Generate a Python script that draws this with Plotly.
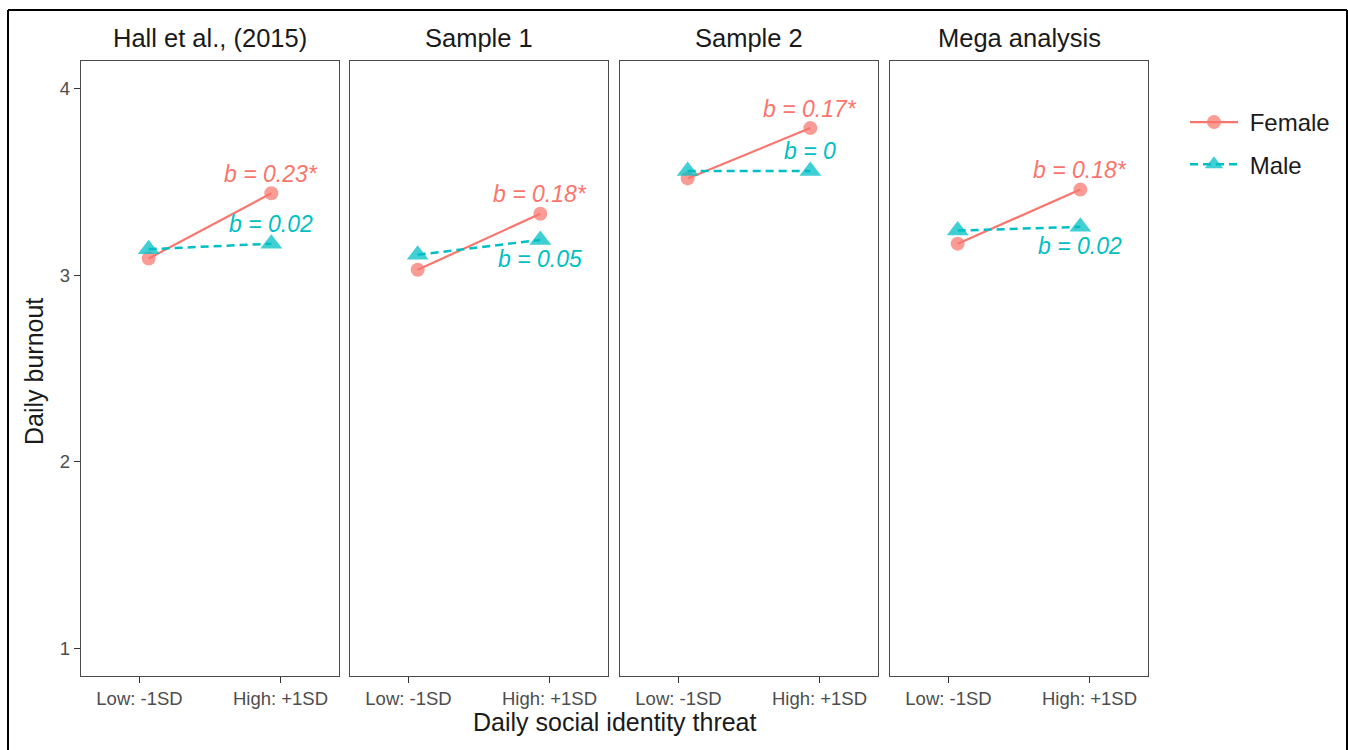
import plotly.graph_objects as go

# ---------------- data ----------------
panels = ["Hall et al., (2015)", "Sample 1", "Sample 2", "Mega analysis"]
x_levels = [-0.87, 0.87]                     # Low / High threat (plotted positions)
tick_vals = [-1, 1]
tick_text = ["Low: -1SD", "High: +1SD"]
female_low = [3.09, 3.03, 3.52, 3.17]
female_high = [3.44, 3.33, 3.79, 3.46]
male_low = [3.14, 3.11, 3.56, 3.24]
male_high = [3.17, 3.19, 3.56, 3.26]
female_b = ["b = 0.23*", "b = 0.18*", "b = 0.17*", "b = 0.18*"]
male_b = ["b = 0.02", "b = 0.05", "b = 0", "b = 0.02"]
male_label_side = ["above", "below", "above", "below"]
y_ticks = [1, 2, 3, 4]
groups = ["Female", "Male"]

# ---------------- style ----------------
W, H = 1348, 750
FEM = "#F8766D"
MAL = "#00BFC4"
FONT = "Liberation Sans, Arial, sans-serif"
panel_px = [(81, 339), (350, 608), (620, 878), (890, 1148)]
top_px, bot_px = 61, 676
label_off = 0.105
NBSP = "\u00a0"

fig = go.Figure()
for i, name in enumerate(panels):
    ax = "" if i == 0 else str(i + 1)
    xr, yr = "x" + ax, "y" + ax
    fig.add_trace(go.Scatter(
        x=x_levels, y=[female_low[i], female_high[i]], xaxis=xr, yaxis=yr,
        mode="lines+markers", name=NBSP + groups[0], legendgroup=groups[0],
        showlegend=(i == 0),
        line=dict(color=FEM, width=2.2),
        marker=dict(symbol="circle", size=14, color=FEM, opacity=0.72),
    ))
    fig.add_trace(go.Scatter(
        x=x_levels, y=[male_low[i], male_high[i]], xaxis=xr, yaxis=yr,
        mode="lines+markers", name=NBSP + groups[1], legendgroup=groups[1],
        showlegend=(i == 0),
        line=dict(color=MAL, width=2.5, dash="8px,5px"),
        marker=dict(symbol="triangle-up", size=19, color=MAL, opacity=0.75),
    ))
    # slope labels
    fig.add_annotation(x=x_levels[1], y=female_high[i] + label_off, xref=xr, yref=yr,
                       text="<i>" + female_b[i] + "</i>", showarrow=False,
                       font=dict(family=FONT, size=23, color=FEM),
                       xanchor="center", yanchor="middle")
    sgn = 1 if male_label_side[i] == "above" else -1
    fig.add_annotation(x=x_levels[1], y=male_high[i] + sgn * label_off, xref=xr, yref=yr,
                       text="<i>" + male_b[i] + "</i>", showarrow=False,
                       font=dict(family=FONT, size=23, color=MAL),
                       xanchor="center", yanchor="middle")
    # strip title
    l, r = panel_px[i]
    fig.add_annotation(x=(l + r) / 2 / W, y=1 - 38 / H, xref="paper", yref="paper",
                       text=name, showarrow=False,
                       font=dict(family=FONT, size=25.5, color="#1a1a1a"),
                       xanchor="center", yanchor="middle")

    fig.layout["xaxis" + ax] = dict(
        domain=[l / W, r / W], range=[-1.83, 1.83], anchor=yr,
        tickvals=tick_vals, ticktext=tick_text, ticks="outside", ticklen=6,
        tickwidth=1.3, tickcolor="#333333",
        tickfont=dict(family=FONT, size=18.5, color="#4D4D4D"),
        showline=True, mirror=True, linecolor="#4a4a4a", linewidth=1.3,
        showgrid=False, zeroline=False, fixedrange=True,
    )
    ydict = dict(
        domain=[1 - bot_px / H, 1 - top_px / H], range=[0.85, 4.15], anchor=xr,
        showline=True, mirror=True, linecolor="#4a4a4a", linewidth=1.3,
        showgrid=False, zeroline=False, fixedrange=True,
    )
    if i == 0:
        ydict.update(tickvals=y_ticks, ticks="outside", ticklen=6, tickwidth=1.3,
                     tickcolor="#333333",
                     tickfont=dict(family=FONT, size=18.5, color="#4D4D4D"))
    else:
        ydict.update(showticklabels=False, ticks="")
    fig.layout["yaxis" + ax] = ydict

# axis titles
fig.add_annotation(x=614.5 / W, y=1 - 722 / H, xref="paper", yref="paper",
                   text="Daily social identity threat", showarrow=False,
                   font=dict(family=FONT, size=25, color="#1a1a1a"),
                   xanchor="center", yanchor="middle")
fig.add_annotation(x=34 / W, y=1 - 372 / H, xref="paper", yref="paper",
                   text="Daily burnout", showarrow=False, textangle=-90,
                   font=dict(family=FONT, size=25, color="#1a1a1a"),
                   xanchor="center", yanchor="middle")

# outer border (left, top, right)
for x0, y0, x1, y1 in [(8, 10, 8, 760), (8, 10, 1347, 10), (1347, 10, 1347, 760)]:
    fig.add_shape(type="line", xref="paper", yref="paper",
                  x0=x0 / W, y0=1 - y0 / H, x1=x1 / W, y1=1 - y1 / H,
                  line=dict(color="black", width=2))

fig.update_layout(
    width=W, height=H, margin=dict(l=0, r=0, t=0, b=0),
    paper_bgcolor="white", plot_bgcolor="white",
    font=dict(family=FONT),
    legend=dict(x=1185 / W, y=1 - 100 / H, xanchor="left", yanchor="top",
                font=dict(family=FONT, size=24, color="#1a1a1a"),
                bgcolor="rgba(0,0,0,0)", tracegroupgap=8, itemwidth=48),
)

fig.write_html("out.html", config={"displayModeBar": False},
               post_script="document.body.style.margin='0';")
